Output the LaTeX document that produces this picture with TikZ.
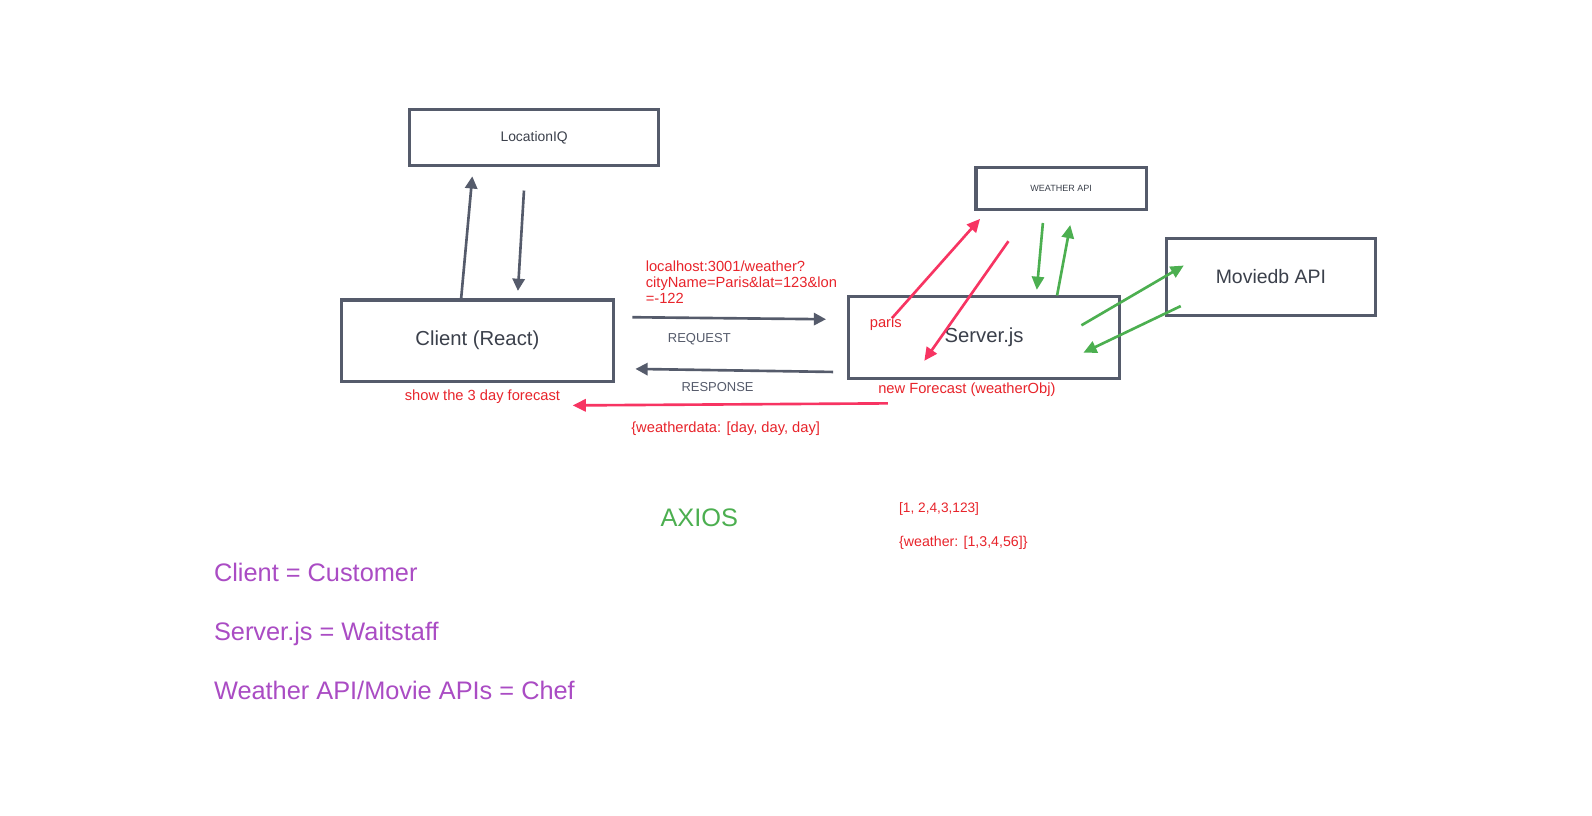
\documentclass[tikz,border=0pt]{standalone}
\usepackage{fontspec}
\setmainfont{Liberation Sans}
\usetikzlibrary{arrows.meta}
\definecolor{boxgray}{HTML}{555B6B}
\definecolor{notered}{HTML}{E8242B}
\definecolor{linkred}{HTML}{F73462}
\definecolor{apigreen}{HTML}{4CAF50}
\definecolor{notepurple}{HTML}{AA4CC4}
\tikzset{
  apibox/.style={rectangle, draw=boxgray, line width=3pt, inner sep=0pt, text=boxgray!70!black},
  grayflow/.style={-{Triangle[length=12pt,width=12pt]}, draw=boxgray, line width=2.6pt},
  redflow/.style={-{Triangle[length=13pt,width=12pt]}, draw=linkred, line width=2.6pt},
  greenflow/.style={-{Triangle[length=13pt,width=12pt]}, draw=apigreen, line width=2.6pt},
  rednote/.style={text=notered, font=\fontsize{14.5}{16}\selectfont, inner sep=0pt},
  graynote/.style={text=boxgray, font=\fontsize{12.8}{15}\selectfont, inner sep=0pt},
  analogy/.style={text=notepurple, font=\fontsize{25}{28}\selectfont, anchor=base west, inner sep=0pt}
}
\begin{document}
\begin{tikzpicture}[x=1pt, y=-1pt]
    \useasboundingbox[fill=white] (0,0) rectangle (1570.8,805.1);

    % boxes
    \node[apibox, minimum width=245pt, minimum height=55pt, font=\fontsize{13.7}{16}\selectfont] (locationiq) at (527,136) {LocationIQ};
    \node[apibox, minimum width=268pt, minimum height=80pt, font=\fontsize{20}{24}\selectfont] (client) at (471,336) {Client (React)};
    \node[apibox, minimum width=268pt, minimum height=80pt, font=\fontsize{20}{24}\selectfont] (server) at (971,333) {Server.js};
    \node[apibox, minimum width=168pt, minimum height=41pt, font=\fontsize{8.9}{10}\selectfont] (weatherapi) at (1047,186) {WEATHER API};
    \node[apibox, minimum width=206pt, minimum height=76pt, font=\fontsize{19.2}{23}\selectfont] (moviedb) at (1254,273) {Moviedb API};

    % arrow ends
    \coordinate (locup) at (466,174);
    \coordinate (locdownstart) at (517,188);
    \coordinate (locdownend) at (511,287);
    \coordinate (reqstart) at (624,313);
    \coordinate (reqend) at (815,315);
    \coordinate (resstart) at (822,367);
    \coordinate (resend) at (627,364);
    \coordinate (fcststart) at (876,398);
    \coordinate (fcstend) at (565,400);
    \coordinate (parisstart) at (880,314);
    \coordinate (parisend) at (967,216);
    \coordinate (objstart) at (995,238);
    \coordinate (objend) at (912,356);
    \coordinate (wdownstart) at (1029,220);
    \coordinate (wdownend) at (1023,286);
    \coordinate (wupend) at (1056,222);
    \coordinate (mreqstart) at (1067,321);
    \coordinate (mreqend) at (1168,262);
    \coordinate (mresstart) at (1165,302);
    \coordinate (mresend) at (1069,348);

    % client <-> locationiq
    \draw[grayflow] (client.north -| 455,0) -- (locup);
    \draw[grayflow] (locdownstart) -- (locdownend);

    % client <-> server
    \draw[grayflow] (reqstart) -- (reqend);
    \draw[grayflow] (resstart) -- (resend);
    \draw[redflow] (fcststart) -- (fcstend);

    % server <-> weather api
    \draw[redflow] (parisstart) -- (parisend);
    \draw[redflow] (objstart) -- (objend);
    \draw[greenflow] (wdownstart) -- (wdownend);
    \draw[greenflow] (server.north -| 1043,0) -- (wupend);

    % server <-> moviedb
    \draw[greenflow] (mreqstart) -- (mreqend);
    \draw[greenflow] (mresstart) -- (mresend);

    % labels
    \node[rednote, anchor=north west, align=left] (query) at (637,257) {localhost:3001/weather?\\[0pt]cityName=Paris\&lat=123\&lon\\[0pt]=-122};
    \node[graynote] (request) at (690,335) {REQUEST};
    \node[graynote] (response) at (708,382) {RESPONSE};
    \node[rednote] (show) at (476,391) {show the 3 day forecast};
    \node[rednote] (weatherdata) at (716,423) {\{weatherdata: [day, day, day]};
    \node[rednote] (newfcst) at (954,385) {new Forecast (weatherObj)};
    \node[rednote] (paris) at (874,319) {paris};
    \node[text=apigreen, font=\fontsize{25}{30}\selectfont, inner sep=0pt] (axios) at (690,511) {AXIOS};
    \node[rednote, anchor=west, font=\fontsize{13.5}{15}\selectfont] (numbers) at (887,502) {[1, 2,4,3,123]};
    \node[rednote, anchor=west, font=\fontsize{14}{15}\selectfont] (weatherarr) at (887,536) {\{weather: [1,3,4,56]\}};

    % analogy
    \node[analogy] (customer) at (211,574) {Client = Customer};
    \node[analogy] (waitstaff) at (211,632) {Server.js = Waitstaff};
    \node[analogy] (chef) at (211,690) {Weather API/Movie APIs = Chef};
\end{tikzpicture}
\end{document}
